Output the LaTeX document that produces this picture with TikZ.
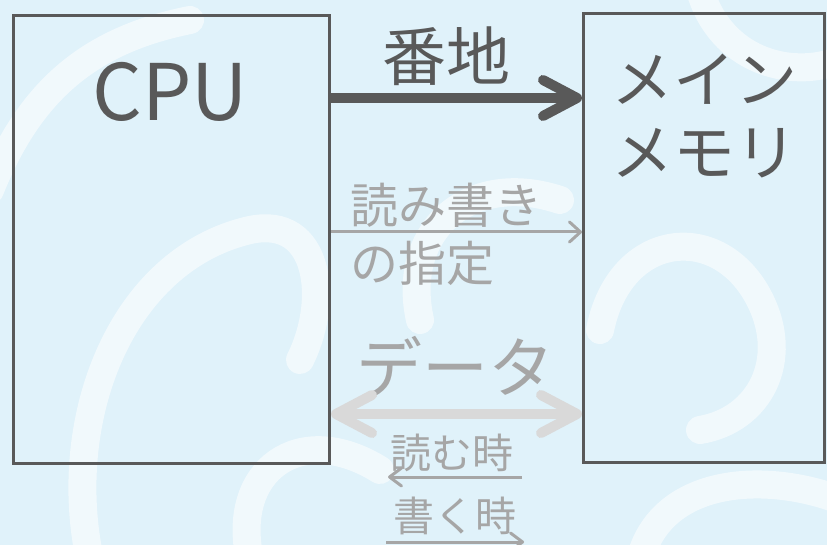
\documentclass[tikz,border=0pt]{standalone}
\usepackage{fontspec}
\setmainfont{Noto Sans CJK JP}
\usetikzlibrary{arrows.meta}
\definecolor{bgblue}{HTML}{E0F2FA}
\definecolor{darkg}{HTML}{595959}
\definecolor{midg}{HTML}{A6A6A6}
\definecolor{lightg}{HTML}{D9D9D9}
\tikzset{
  box/.style={draw=darkg, line width=3pt, inner sep=0pt, anchor=north west},
  swirl/.style={white, opacity=0.55, line width=28pt, line cap=round},
  bigtxt/.style={text=darkg, inner sep=0pt},
  greytxt/.style={text=midg, inner sep=0pt},
  fsz/.style={font=\fontsize{#1}{#1}\selectfont},
}
\begin{document}
\begin{tikzpicture}[x=1pt,y=-1pt]
\useasboundingbox (0,0) rectangle (827,545);
\clip (0,0) rectangle (827,545);
\fill[bgblue] (0,0) rectangle (827,545);
% background swirls
\draw[swirl] (-10,190) .. controls (30,90) and (90,40) .. (190,20);
\draw[swirl] (90,560) .. controls (60,420) and (120,260) .. (250,230) .. controls (320,215) and (330,300) .. (300,360);
\draw[swirl] (250,560) .. controls (230,470) and (300,420) .. (380,470);
\draw[swirl] (420,320) .. controls (400,230) and (470,170) .. (560,200);
\draw[swirl] (600,330) .. controls (620,230) and (720,220) .. (760,300) .. controls (790,360) and (760,420) .. (700,430);
\draw[swirl] (640,560) .. controls (660,480) and (760,470) .. (840,500);
\draw[swirl] (700,-10) .. controls (720,60) and (790,80) .. (840,60);
% boxes
\node[box, minimum width=316pt, minimum height=448pt] (cpu) at (12,14) {};
\node[box, minimum width=241pt, minimum height=449pt] (mem) at (582,12) {};
% texts
\node[bigtxt, fsz=78] (cputxt) at (170,92) {CPU};
\node[bigtxt, fsz=62, align=center, text=darkg] (memtxt) at (704,116) {メイン\\[11pt]メモリ};
\node[bigtxt, fsz=64] (addr) at (446,56) {番地};
\node[greytxt, fsz=48, align=left, anchor=west] (rw) at (350,234) {読み書き\\[10pt]の指定};
\node[greytxt, fsz=66] (data) at (455,366) {データ};
\node[greytxt, fsz=41] (rd) at (452,453) {読む時};
\node[greytxt, fsz=41] (wr) at (455,516) {書く時};
% connectors
\coordinate (a1) at (cpu.east |- 0,98);
\coordinate (a2) at (mem.west |- 0,98);
\draw[darkg, line width=10pt, -{Straight Barb[length=34pt,width=36pt,round]}] (a1) -- (a2);
\coordinate (b1) at (cpu.east |- 0,232);
\coordinate (b2) at (mem.west |- 0,232);
\draw[midg, line width=3pt, -{Straight Barb[length=11pt,width=20pt,round]}] (b1) -- (b2);
\coordinate (c1) at (cpu.east |- 0,414);
\coordinate (c2) at (mem.west |- 0,414);
\draw[lightg, line width=10pt, {Straight Barb[length=36pt,width=38pt,round]}-{Straight Barb[length=36pt,width=38pt,round]}] (c1) -- (c2);
\coordinate (d1) at (522,477);
\coordinate (d2) at (388,477);
\draw[midg, line width=3pt, -{Straight Barb[length=12pt,width=18pt,round]}] (d1) -- (d2);
\coordinate (e1) at (386,542);
\coordinate (e2) at (524,542);
\draw[midg, line width=3pt, -{Straight Barb[length=12pt,width=18pt,round]}] (e1) -- (e2);
\end{tikzpicture}
\end{document}
